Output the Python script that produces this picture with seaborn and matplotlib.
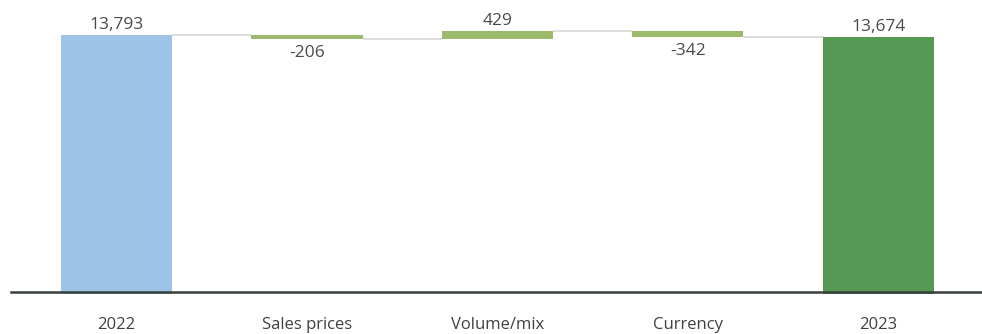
import matplotlib
matplotlib.use("Agg")
import matplotlib.pyplot as plt
import seaborn as sns
import numpy as np

categories = ["2022", "Sales prices", "Volume/mix", "Currency", "2023"]
values = [13793, -206, 429, -342, 13674]
is_total = [True, False, False, False, True]
labels = ["13,793", "-206", "429", "-342", "13,674"]

# waterfall geometry derived from the values
bottoms, heights, levels = [], [], []
running = 0
for v, tot in zip(values, is_total):
    if tot:
        bottoms.append(0)
        heights.append(v)
        running = v
    else:
        start = running
        running = running + v
        bottoms.append(min(start, running))
        heights.append(abs(v))
    levels.append(running)

colors = ["#9DC3E6", "#9BBB6A", "#9BBB6A", "#9BBB6A", "#559955"]

sns.set_style("white")
plt.rcParams["font.family"] = ["Open Sans", "DejaVu Sans"]

fig = plt.figure(figsize=(9.82, 3.34), dpi=100)
ax = fig.add_axes([11 / 982, 40 / 334, 971 / 982, 294 / 334])

bw = 0.585
sns.barplot(x=categories, y=heights, bottom=bottoms, color=colors[0],
            width=bw, ax=ax, linewidth=0, zorder=3)
for p, c in zip(ax.patches, colors):
    p.set_facecolor(c)
    p.set_edgecolor("none")

# connectors
for i in range(len(values) - 1):
    ax.hlines(levels[i], i + bw / 2, i + 1 - bw / 2, color="#DDD9D5",
              linewidth=1.3, zorder=2)

# value labels
for i, (v, b, h, lab) in enumerate(zip(values, bottoms, heights, labels)):
    if v >= 0:
        ax.annotate(lab, (i, b + h), xytext=(0, 1.2), textcoords="offset points",
                    ha="center", va="bottom", fontsize=12.5, color="#4A4A4A")
    else:
        ax.annotate(lab, (i, b), xytext=(0, -4.5), textcoords="offset points",
                    ha="center", va="top", fontsize=12.5, color="#4A4A4A")

ax.set_xlim(-0.554, 4.545)
ax.set_ylim(0, 15640)
for s in ["left", "right", "top"]:
    ax.spines[s].set_visible(False)
ax.spines["bottom"].set_color("#37403B")
ax.spines["bottom"].set_linewidth(1.8)
ax.spines["bottom"].set_position(("outward", -1.5))
ax.spines["bottom"].set_zorder(4)
ax.set_yticks([])
ax.set_ylabel("")
ax.tick_params(axis="x", length=0, pad=18, labelsize=12, labelcolor="#404040")

fig.savefig("out.png", dpi=100)
